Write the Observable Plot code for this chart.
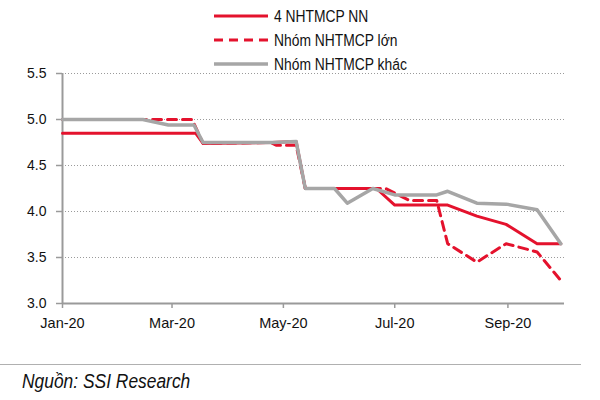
<!DOCTYPE html>
<html>
<head>
<meta charset="utf-8">
<script src="https://cdn.jsdelivr.net/npm/d3@7"></script>
<script src="https://cdn.jsdelivr.net/npm/@observablehq/plot@0.6"></script>
<style>
  body { margin: 0; background: #fff; }
  #wrap { position: relative; width: 600px; height: 400px; overflow: hidden; background: #fff; }
  #chart { position: absolute; left: 0; top: 0; }
  #legend { position: absolute; left: 0; top: 0; }
  #sep { position: absolute; left: 0; top: 364px; width: 581px; height: 0; border-top: 1.3px solid #b0b0b0; }
  #caption { position: absolute; left: 22px; top: 370px; font-family: "Liberation Sans", Arial, sans-serif; font-style: italic; font-size: 20px; color: #111; transform: scaleX(0.87); transform-origin: 0 0; white-space: nowrap; }
</style>
</head>
<body>
<div id="wrap">
  <div id="chart"></div>
  <div id="legend"></div>
  <div id="sep"></div>
  <div id="caption">Nguồn: SSI Research</div>
</div>
<script>
// ---- Data ----
const seriesNames = ["4 NHTMCP NN", "Nhóm NHTMCP lớn", "Nhóm NHTMCP khác"];

const nnDates = ["2020-01-01","2020-03-14","2020-03-18","2020-04-25","2020-05-08","2020-05-13","2020-06-21","2020-07-01","2020-07-30","2020-08-15","2020-08-31","2020-09-17","2020-09-30"];
const nnValues = [4.85, 4.85, 4.74, 4.75, 4.76, 4.25, 4.25, 4.07, 4.07, 3.95, 3.86, 3.65, 3.65];

const lonDates = ["2020-01-01","2020-03-12","2020-03-18","2020-04-24","2020-04-27","2020-05-08","2020-05-13","2020-06-26","2020-07-09","2020-07-24","2020-07-30","2020-08-15","2020-08-31","2020-09-17","2020-09-30"];
const lonValues = [5.00, 5.00, 4.74, 4.75, 4.72, 4.72, 4.25, 4.25, 4.12, 4.12, 3.65, 3.45, 3.65, 3.56, 3.25];

const khacDates = ["2020-01-01","2020-02-14","2020-02-28","2020-03-13","2020-03-18","2020-04-25","2020-05-08","2020-05-13","2020-05-29","2020-06-05","2020-06-19","2020-07-01","2020-07-24","2020-07-30","2020-08-15","2020-08-31","2020-09-17","2020-09-30"];
const khacValues = [5.00, 5.00, 4.94, 4.94, 4.75, 4.75, 4.76, 4.25, 4.25, 4.09, 4.25, 4.18, 4.18, 4.22, 4.09, 4.08, 4.02, 3.65];

const xTickDates = ["2020-01-01","2020-03-01","2020-05-01","2020-07-01","2020-09-01"];
const yTicks = [3.0, 3.5, 4.0, 4.5, 5.0, 5.5];
const xDomain = ["2020-01-01","2020-10-02"];

// ---- Styles ----
const RED = "#e4122d";
const GRAY = "#a6a6a6";
const AXIS = "#9a9a9a";
const REG = '"Liberation Sans", Arial, sans-serif';

const parse = d3.utcParse("%Y-%m-%d");
const toRows = (dates, values) => dates.map((d, i) => ({date: parse(d), value: values[i]}));
const nn = toRows(nnDates, nnValues);
const lon = toRows(lonDates, lonValues);
const khac = toRows(khacDates, khacValues);

const chart = Plot.plot({
  width: 600,
  height: 345,
  marginTop: 73,
  marginBottom: 42,
  marginLeft: 62,
  marginRight: 36,
  style: {background: "transparent", color: "#111"},
  x: {type: "utc", domain: xDomain.map(parse)},
  y: {domain: [3, 5.5]},
  marks: [
    Plot.gridY(yTicks.filter(v => v > 3), {stroke: "#9a9a9a", strokeOpacity: 1, strokeDasharray: "1,2", strokeWidth: 1}),
    Plot.axisY(yTicks, {tickFormat: d3.format(".1f"), tickSize: 6, tickPadding: 10, stroke: AXIS, strokeWidth: 1.5, fontSize: 14, fontFamily: REG, fill: "#111", label: null}),
    Plot.axisX(xTickDates.map(parse), {tickFormat: d3.utcFormat("%b-%y"), tickSize: 5, tickPadding: 9, stroke: AXIS, strokeWidth: 1.5, fontSize: 14.5, fontFamily: REG, fill: "#111", label: null}),
    Plot.ruleY([3], {stroke: AXIS, strokeWidth: 2}),
    Plot.ruleX([parse(xDomain[0])], {stroke: AXIS, strokeWidth: 2}),
    Plot.line(nn, {x: "date", y: "value", stroke: RED, strokeWidth: 3}),
    Plot.line(lon, {x: "date", y: "value", stroke: RED, strokeWidth: 3, strokeDasharray: "9,6"}),
    Plot.line(khac, {x: "date", y: "value", stroke: GRAY, strokeWidth: 3.5})
  ]
});
document.getElementById("chart").appendChild(chart);

// ---- Legend ----
const legendStyles = [
  {stroke: RED, dash: null, width: 3},
  {stroke: RED, dash: "9,6", width: 3},
  {stroke: GRAY, dash: null, width: 3.5}
];
const lsvg = d3.select("#legend").append("svg").attr("width", 600).attr("height", 75);
seriesNames.forEach((name, i) => {
  const y = 16 + i * 24;
  lsvg.append("line").attr("x1", 214).attr("x2", 268).attr("y1", y).attr("y2", y)
    .attr("stroke", legendStyles[i].stroke).attr("stroke-width", legendStyles[i].width)
    .attr("stroke-dasharray", legendStyles[i].dash);
  lsvg.append("text").attr("transform", `translate(274,${y}) scale(0.84,1)`).attr("dy", "0.36em")
    .attr("font-family", REG).attr("font-size", 16.5).attr("fill", "#111").text(name);
});
</script>
</body>
</html>
